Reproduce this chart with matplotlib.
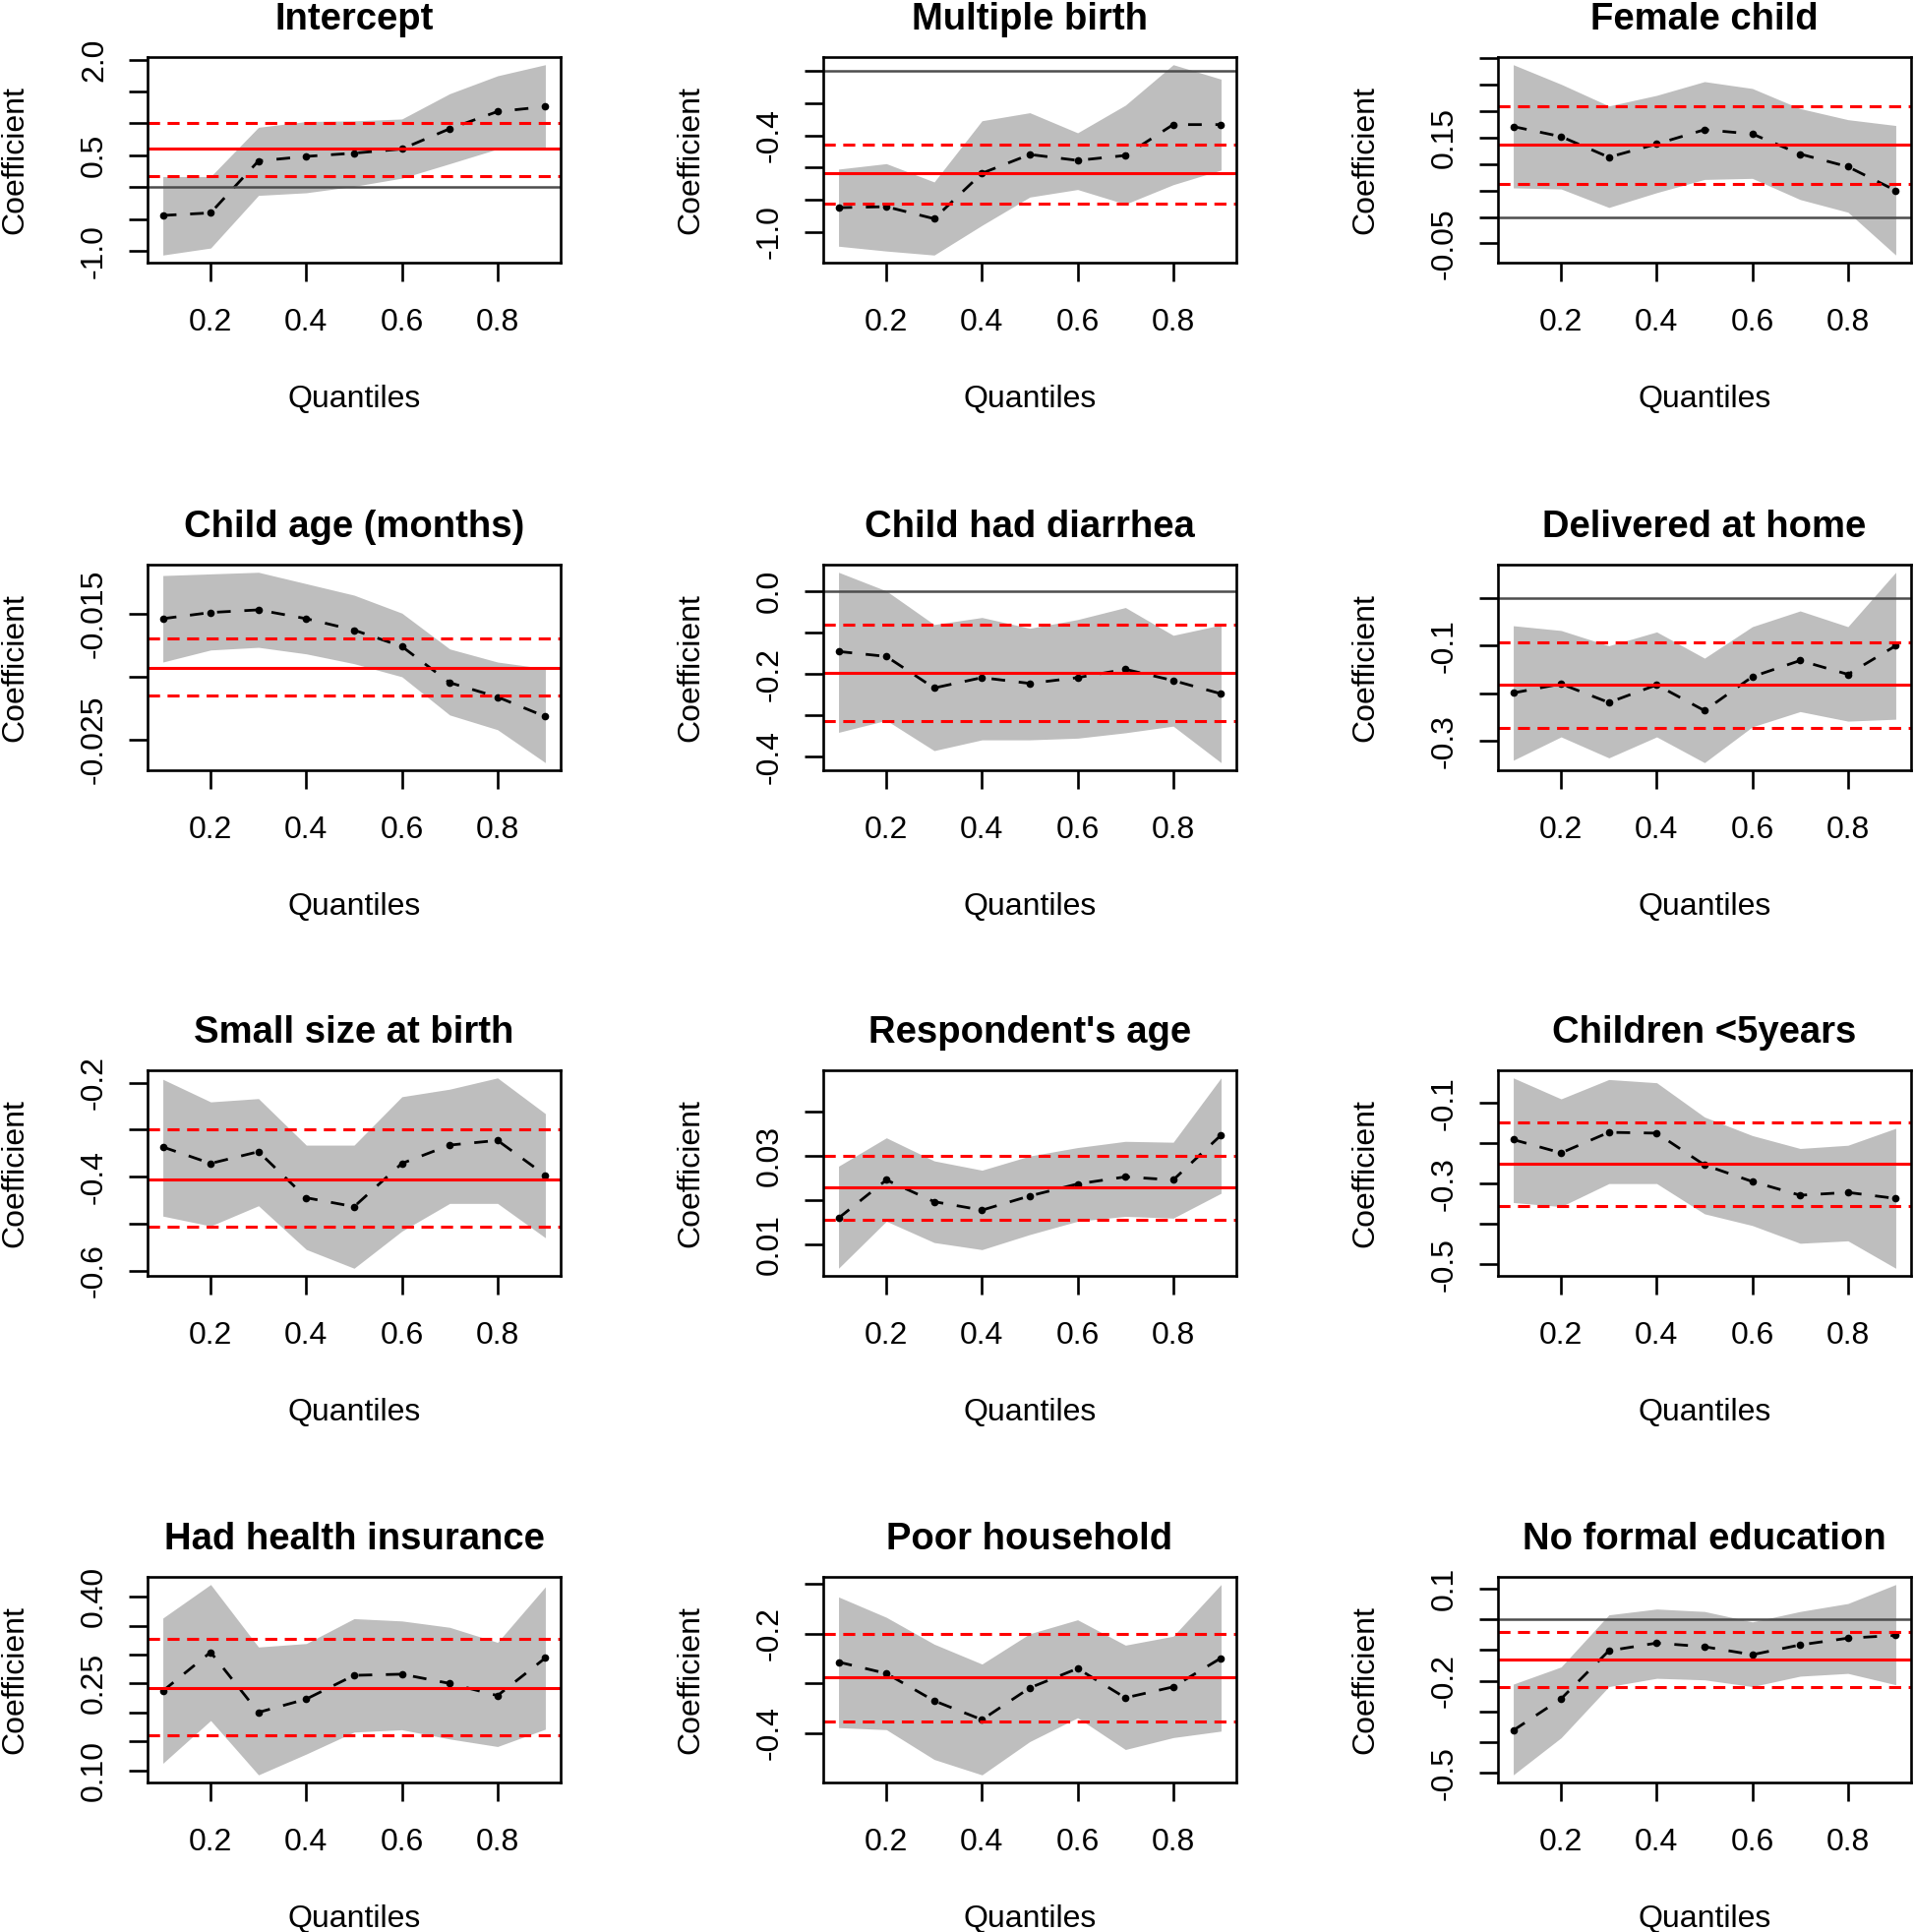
import numpy as np
import matplotlib
matplotlib.use("Agg")
import matplotlib.pyplot as plt

plt.rcParams['font.family'] = ['Liberation Sans', 'DejaVu Sans']

taus = [0.1, 0.2, 0.3, 0.4, 0.5, 0.6, 0.7, 0.8, 0.9]

titles = ["Intercept", "Multiple birth", "Female child",
          "Child age (months)", "Child had diarrhea", "Delivered at home",
          "Small size at birth", "Respondent's age", "Children <5years",
          "Had health insurance", "Poor household", "No formal education"]

# quantile regression estimates
est = [
    [-0.44, -0.40, 0.413, 0.484, 0.535, 0.60, 0.917, 1.186, 1.263],
    [-0.85, -0.844, -0.919, -0.636, -0.519, -0.556, -0.525, -0.333, -0.333],
    [0.171, 0.152, 0.113, 0.138, 0.165, 0.157, 0.119, 0.095, 0.05],
    [-0.01539, -0.0149, -0.01469, -0.01539, -0.0163, -0.0176, -0.02048, -0.02162, -0.02318],
    [-0.146, -0.158, -0.234, -0.209, -0.223, -0.209, -0.189, -0.216, -0.248],
    [-0.199, -0.180, -0.219, -0.182, -0.236, -0.165, -0.131, -0.160, -0.10],
    [-0.337, -0.372, -0.347, -0.445, -0.464, -0.372, -0.333, -0.323, -0.397],
    [0.0159, 0.0245, 0.0196, 0.0177, 0.0209, 0.0236, 0.0252, 0.0245, 0.0346],
    [-0.191, -0.224, -0.173, -0.175, -0.254, -0.295, -0.329, -0.322, -0.337],
    [0.237, 0.304, 0.20, 0.223, 0.264, 0.266, 0.25, 0.229, 0.294],
    [-0.257, -0.28, -0.335, -0.373, -0.309, -0.27, -0.329, -0.307, -0.249],
    [-0.362, -0.259, -0.102, -0.077, -0.089, -0.115, -0.083, -0.061, -0.052],
]

# confidence band, upper
upper = [
    [0.169, 0.169, 0.94, 1.03, 1.04, 1.07, 1.466, 1.746, 1.92],
    [-0.61, -0.576, -0.69, -0.309, -0.259, -0.384, -0.212, 0.04, -0.05],
    [0.288, 0.251, 0.21, 0.23, 0.256, 0.243, 0.205, 0.184, 0.173],
    [-0.01196, -0.01183, -0.0117, -0.01261, -0.01352, -0.01495, -0.0178, -0.01884, -0.01936],
    [0.045, 0.0, -0.081, -0.064, -0.090, -0.069, -0.040, -0.107, -0.082],
    [-0.058, -0.068, -0.10, -0.071, -0.126, -0.060, -0.027, -0.060, 0.054],
    [-0.193, -0.241, -0.234, -0.333, -0.333, -0.23, -0.214, -0.19, -0.266],
    [0.0276, 0.034, 0.0288, 0.0267, 0.0299, 0.0318, 0.0332, 0.033, 0.0475],
    [-0.038, -0.09, -0.042, -0.05, -0.135, -0.181, -0.213, -0.205, -0.163],
    [0.363, 0.421, 0.313, 0.319, 0.362, 0.358, 0.347, 0.321, 0.417],
    [-0.126, -0.167, -0.221, -0.261, -0.20, -0.172, -0.223, -0.205, -0.101],
    [-0.211, -0.155, 0.015, 0.034, 0.026, -0.008, 0.026, 0.052, 0.114],
]

# confidence band, lower
lower = [
    [-1.06, -0.95, -0.126, -0.085, 0.016, 0.144, 0.37, 0.60, 0.627],
    [-1.09, -1.12, -1.145, -0.96, -0.784, -0.737, -0.828, -0.707, -0.616],
    [0.055, 0.053, 0.018, 0.046, 0.071, 0.073, 0.033, 0.009, -0.072],
    [-0.01884, -0.01788, -0.01767, -0.01819, -0.01897, -0.02001, -0.02305, -0.02422, -0.02684],
    [-0.341, -0.312, -0.385, -0.359, -0.359, -0.355, -0.342, -0.326, -0.414],
    [-0.34, -0.291, -0.335, -0.291, -0.345, -0.270, -0.238, -0.258, -0.254],
    [-0.484, -0.505, -0.462, -0.555, -0.595, -0.516, -0.457, -0.457, -0.53],
    [0.0046, 0.0152, 0.0104, 0.0088, 0.0122, 0.0152, 0.0163, 0.0159, 0.0215],
    [-0.347, -0.357, -0.30, -0.30, -0.375, -0.404, -0.448, -0.442, -0.51],
    [0.112, 0.186, 0.092, 0.128, 0.166, 0.170, 0.154, 0.141, 0.171],
    [-0.389, -0.393, -0.453, -0.484, -0.417, -0.369, -0.433, -0.409, -0.396],
    [-0.507, -0.386, -0.219, -0.192, -0.197, -0.219, -0.185, -0.176, -0.213],
]

# OLS estimate and its confidence limits
ols = [0.60, -0.636, 0.136, -0.01929, -0.197, -0.182, -0.406, 0.0229, -0.252, 0.242, -0.288, -0.130]
ols_hi = [1.0, -0.46, 0.21, -0.01697, -0.082, -0.092, -0.30, 0.030, -0.148, 0.327, -0.20, -0.040]
ols_lo = [0.18, -0.822, 0.062, -0.02149, -0.314, -0.272, -0.507, 0.0155, -0.355, 0.160, -0.377, -0.221]

yticks = [
    [-1.0, -0.5, 0.0, 0.5, 1.0, 1.5, 2.0],
    [-1.0, -0.8, -0.6, -0.4, -0.2, 0.0],
    [-0.05, 0.0, 0.05, 0.10, 0.15, 0.20, 0.25, 0.30],
    [-0.025, -0.020, -0.015],
    [-0.4, -0.3, -0.2, -0.1, 0.0],
    [-0.3, -0.2, -0.1, 0.0],
    [-0.6, -0.5, -0.4, -0.3, -0.2],
    [0.01, 0.02, 0.03, 0.04],
    [-0.5, -0.4, -0.3, -0.2, -0.1],
    [0.10, 0.15, 0.20, 0.25, 0.30, 0.35, 0.40],
    [-0.4, -0.3, -0.2, -0.1],
    [-0.5, -0.4, -0.3, -0.2, -0.1, 0.0, 0.1],
]
ylabels = [
    ["-1.0", "", "", "0.5", "", "", "2.0"],
    ["-1.0", "", "", "-0.4", "", ""],
    ["-0.05", "", "", "", "0.15", "", "", ""],
    ["-0.025", "", "-0.015"],
    ["-0.4", "", "-0.2", "", "0.0"],
    ["-0.3", "", "-0.1", ""],
    ["-0.6", "", "-0.4", "", "-0.2"],
    ["0.01", "", "0.03", ""],
    ["-0.5", "", "-0.3", "", "-0.1"],
    ["0.10", "", "", "0.25", "", "", "0.40"],
    ["-0.4", "", "-0.2", ""],
    ["-0.5", "", "", "-0.2", "", "", "0.1"],
]
xticks = [0.2, 0.4, 0.6, 0.8]

W, H = 1946, 1964
fig = plt.figure(figsize=(W / 100, H / 100), dpi=100)

col_left = [150, 837, 1523]
row_top = [58, 574, 1088, 1603]
box_w, box_h = 420, 209

for i in range(12):
    r, c = divmod(i, 3)
    ax = fig.add_axes([col_left[c] / W, 1 - (row_top[r] + box_h) / H, box_w / W, box_h / H])
    ax.fill_between(taus, lower[i], upper[i], color='#bebebe', lw=0)
    ax.plot(taus, est[i], color='black', lw=2.0, ls=(0, (5, 5)))
    ax.plot(taus, est[i], 'o', color='black', ms=5.5, mec='none')
    ax.axhline(0, color='#4d4d4d', lw=1.8)
    ax.axhline(ols[i], color='red', lw=2.2)
    ax.axhline(ols_hi[i], color='red', lw=2.2, ls=(0, (4, 2.5)))
    ax.axhline(ols_lo[i], color='red', lw=2.2, ls=(0, (4, 2.5)))

    lo = min(min(lower[i]), ols_lo[i])
    hi = max(max(upper[i]), ols_hi[i])
    pad = 0.04 * (hi - lo)
    ax.set_ylim(lo - pad, hi + pad)
    ax.set_xlim(0.1 - 0.032, 0.9 + 0.032)

    ax.set_xticks(xticks)
    ax.set_xticklabels([f"{t:.1f}" for t in xticks])
    ax.set_yticks(yticks[i])
    ax.set_yticklabels(ylabels[i], rotation=90, va='center')
    ax.tick_params(length=14, width=1.9, labelsize=23)
    ax.tick_params(axis='x', pad=19)
    ax.tick_params(axis='y', pad=14)
    for s in ax.spines.values():
        s.set_linewidth(1.9)

    ax.set_xlabel("Quantiles", fontsize=23)
    ax.xaxis.set_label_coords(0.5, -139 / box_h)
    ax.xaxis.label.set_va('center')
    ax.set_ylabel("Coefficient", fontsize=23)
    ax.yaxis.set_label_coords(-135 / box_w, 0.5)
    ax.yaxis.label.set_va('center')
    ax.text(0.5, 1 + 28 / box_h, titles[i], transform=ax.transAxes,
            ha='center', va='baseline', fontsize=27.5, fontweight='bold')

fig.savefig("out.png", dpi=100)
